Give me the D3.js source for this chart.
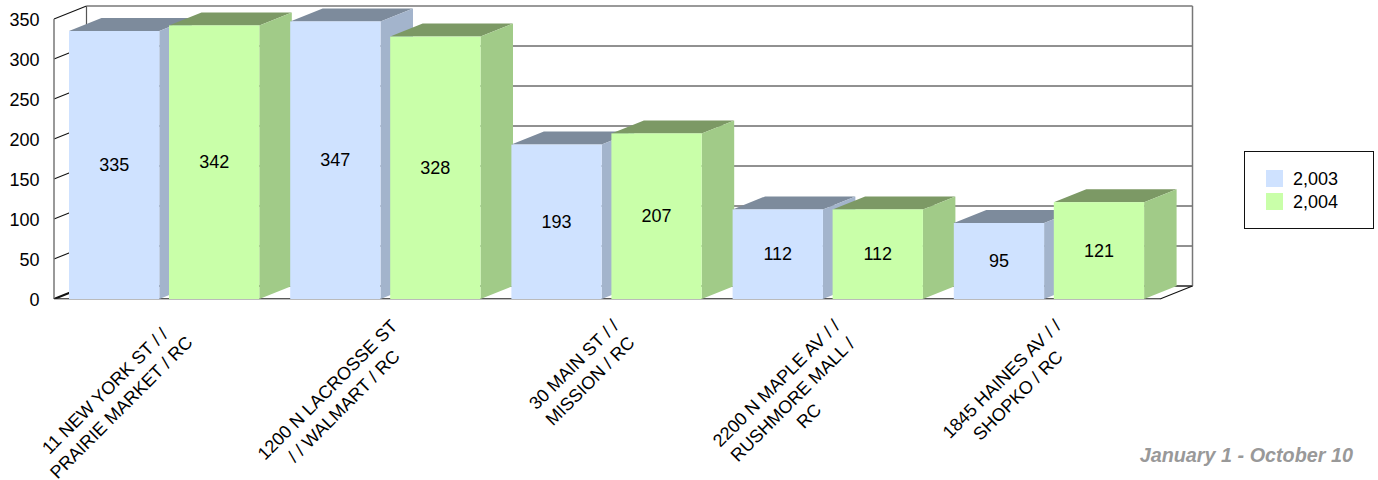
<!DOCTYPE html>
<html><head><meta charset="utf-8">
<script src="https://cdnjs.cloudflare.com/ajax/libs/d3/7.8.5/d3.min.js"></script>
<style>html,body{margin:0;background:#fff}svg{display:block}text{font-family:"Liberation Sans",Arial,sans-serif;fill:#000}</style>
</head><body><svg id="c" width="1378" height="480"></svg>
<script>
const categories=[["11 NEW YORK ST / /","PRAIRIE MARKET / RC"],["1200 N LACROSSE ST","/ / WALMART / RC"],["30 MAIN ST / /","MISSION / RC"],["2200 N MAPLE AV / /","RUSHMORE MALL /","RC"],["1845 HAINES AV / /","SHOPKO / RC"]];
const series2003=[335,347,193,112,95];
const series2004=[342,328,207,112,121];
const seriesNames=["2,003","2,004"];
const yTicks=[0,50,100,150,200,250,300,350];
const footer="January 1 - October 10";

const svg=d3.select("#c");
const x=d3.scaleBand().domain(d3.range(5)).range([54,1160]).paddingInner(0).paddingOuter(0);
const y=d3.scaleLinear().domain([0,350]).range([299,19]);
const dx=32.5,dy=-13;
const colors=[{f:"#cfe2ff",s:"#a3b4cc",t:"#7d8b9c"},{f:"#c9ffa9",s:"#a1cb88",t:"#7c9965"}];

yTicks.forEach(t=>{
  svg.append("line").attr("x1",54).attr("y1",y(t)).attr("x2",54+dx).attr("y2",y(t)+dy).attr("stroke","#111").attr("stroke-width",t==0?2:1.1);
  svg.append("line").attr("x1",54+dx).attr("y1",y(t)+dy).attr("x2",1160+dx).attr("y2",y(t)+dy).attr("stroke",t==350?"#777":"#222").attr("stroke-width",t==350||t==0?1.5:1);
});
svg.append("line").attr("x1",54+dx).attr("y1",y(350)+dy).attr("x2",54+dx).attr("y2",y(0)+dy).attr("stroke","#555").attr("stroke-width",1.2);
svg.append("line").attr("x1",1160+dx).attr("y1",y(350)+dy).attr("x2",1160+dx).attr("y2",y(0)+dy).attr("stroke","#777").attr("stroke-width",1.5);
svg.append("line").attr("x1",54).attr("y1",y(350)).attr("x2",54).attr("y2",y(0)).attr("stroke","#777").attr("stroke-width",1.5);
svg.append("line").attr("x1",54).attr("y1",y(0)).attr("x2",1160).attr("y2",y(0)).attr("stroke","#222").attr("stroke-width",1.5);
svg.append("line").attr("x1",1160).attr("y1",y(0)).attr("x2",1160+dx).attr("y2",y(0)+dy).attr("stroke","#111").attr("stroke-width",1.1);

yTicks.forEach(t=>svg.append("text").attr("x",39.5).attr("y",y(t)+6.5).attr("text-anchor","end").attr("font-size",18).text(t));

const barW=90.3, pad=15, gap=9.7;
const marks=[];
categories.forEach((c,i)=>{[series2003[i],series2004[i]].forEach((v,k)=>marks.push({i,k,v}));});
const g=svg.append("g");
marks.forEach(m=>{
  const x0=x(m.i)+pad+m.k*(barW+gap), x1=x0+barW, yt=y(m.v), yb=y(0), c=colors[m.k];
  const pts=a=>a.map(p=>p.join(",")).join(" ");
  g.append("polygon").attr("points",pts([[x0,yt],[x1,yt],[x1+dx,yt+dy],[x0+dx,yt+dy]])).attr("fill",c.t);
  g.append("polygon").attr("points",pts([[x1,yt],[x1+dx,yt+dy],[x1+dx,yb+dy],[x1,yb]])).attr("fill",c.s);
  g.append("rect").attr("x",x0).attr("y",yt).attr("width",barW).attr("height",yb-yt).attr("fill",c.f);
  g.append("text").attr("x",x0+barW/2).attr("y",(yt+yb)/2+6).attr("text-anchor","middle").attr("font-size",18).text(m.v);
});
svg.append("line").attr("x1",54).attr("y1",y(0)+.5).attr("x2",1160).attr("y2",y(0)+.5).attr("stroke","#bbb").attr("stroke-width",1);

const lh=23;
categories.forEach((lines,i)=>{
  const t=svg.append("text").attr("font-size",18).attr("text-anchor","middle");
  lines.forEach((l,j)=>t.append("tspan").attr("x",0).attr("y",j*lh).text(l));
  const w=d3.max(t.selectAll("tspan").nodes(),n=>n.getComputedTextLength());
  const h=2*lh;
  const cx=x(i)+x.bandwidth()/2+34, cy=316;
  const a=Math.SQRT1_2;
  const bx=cx-(w/2)*a-(h/2)*a, by=cy+(w/2)*a+(h/2)*a;
  t.attr("transform",`translate(${bx},${by}) rotate(-45) translate(0,${-h/2+16})`);
});

svg.append("rect").attr("x",1244.5).attr("y",151.5).attr("width",129).attr("height",77).attr("fill","#fff").attr("stroke","#111").attr("stroke-width",1);
seriesNames.forEach((n,k)=>{
  svg.append("rect").attr("x",1266).attr("y",170+k*23).attr("width",17).attr("height",17).attr("fill",colors[k].f);
  svg.append("text").attr("x",1293).attr("y",185+k*23).attr("font-size",18).text(n);
});
svg.append("text").attr("x",1353).attr("y",462).attr("text-anchor","end").attr("font-size",19.8).attr("font-weight","bold").attr("font-style","italic").style("fill","#999").text(footer);
</script></body></html>
